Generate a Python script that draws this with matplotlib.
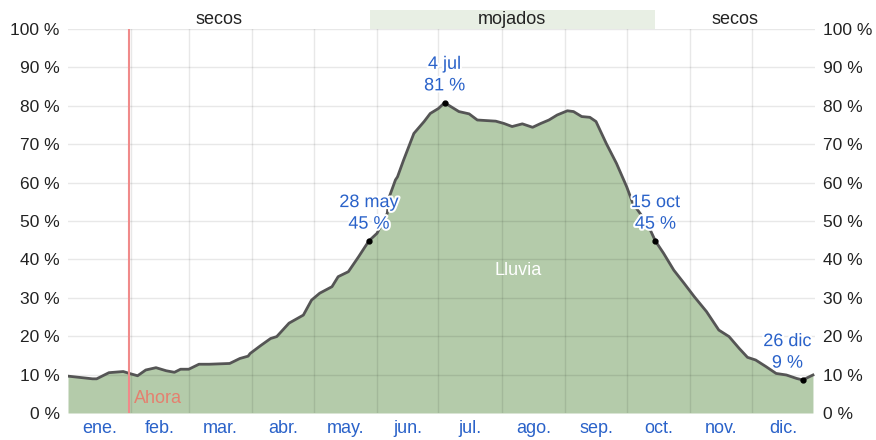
import matplotlib
matplotlib.use("Agg")
import matplotlib.pyplot as plt
import matplotlib.patheffects as pe
import numpy as np

plt.rcParams['font.family'] = ['Liberation Sans', 'DejaVu Sans']

# Day of year (0-based) and probability of rain (%)
days = [0, 12, 14, 20, 27, 30, 34, 38, 43, 48, 52, 55, 59, 64, 69, 79, 84, 88, 89,
        94, 99, 102, 108, 115, 119, 123, 129, 132, 137, 142, 147, 151, 156, 157, 160,
        161, 164, 169, 174, 177, 181, 184, 191, 196, 200, 209, 213, 217, 222, 227,
        231, 235, 239, 244, 247, 251, 255, 258, 263, 268, 273, 276, 283, 287, 291,
        296, 301, 306, 312, 318, 323, 328, 332, 336, 341, 346, 351, 356, 359, 364]
rain = [9.6, 8.9, 8.9, 10.5, 10.8, 10.3, 9.7, 11.2, 11.8, 11.0, 10.6, 11.4, 11.4,
        12.7, 12.7, 12.9, 14.2, 14.8, 15.5, 17.5, 19.4, 19.9, 23.4, 25.5, 29.4, 31.2,
        32.9, 35.5, 36.8, 40.7, 44.8, 46.8, 52.0, 56.3, 60.7, 61.5, 65.9, 72.8, 75.9,
        78.0, 79.3, 80.8, 78.5, 77.9, 76.3, 76.0, 75.4, 74.6, 75.3, 74.4, 75.4, 76.3,
        77.6, 78.7, 78.5, 77.2, 77.0, 75.9, 70.2, 65.0, 58.9, 54.6, 49.4, 44.8, 41.6,
        37.2, 33.8, 30.3, 26.4, 21.6, 19.9, 16.8, 14.5, 13.8, 12.1, 10.3, 9.9, 9.0,
        8.6, 9.9]

months = ['ene.', 'feb.', 'mar.', 'abr.', 'may.', 'jun.', 'jul.', 'ago.', 'sep.',
          'oct.', 'nov.', 'dic.']
month_len = [31, 28, 31, 30, 31, 30, 31, 31, 30, 31, 30, 31]

annot_days = [147, 184, 287, 359]
annot_vals = [45, 81, 45, 9]
annot_text = ['28 may\n45 %', '4 jul\n81 %', '15 oct\n45 %', '26 dic\n9 %']

now_day = 30
wet_start, wet_end = 147.5, 286.8
season_labels = ['secos', 'mojados', 'secos']

yticks = list(range(0, 101, 10))

fig = plt.figure(figsize=(8.76, 4.40), dpi=100)
ax = fig.add_axes([68/876, 1-413/440, (815-68)/876, (413-29)/440])

ax.fill_between(days, 0, rain, color='#b4cbaa', zorder=1, linewidth=0)
ax.plot(days, rain, color='#555555', lw=2, zorder=3, solid_joinstyle='round')

ax.set_xlim(0, 365)
ax.set_ylim(0, 100)

bounds = np.concatenate([[0], np.cumsum(month_len)])
centers = (bounds[:-1] + bounds[1:]) / 2
ax.set_xticks(bounds[1:-1])
ax.set_xticklabels([])
ax.set_xticks(centers, minor=True)
ax.set_xticklabels(months, minor=True)
ax.tick_params(axis='x', which='both', length=0)
ax.tick_params(axis='x', which='minor', labelsize=13, labelcolor='#2a62c9', pad=5)

ax.set_yticks(yticks)
ax.set_yticklabels([f'{v} %' for v in yticks])
ax.tick_params(axis='y', length=0, labelsize=12.5, labelcolor='#222222', pad=6,
               labelleft=True, labelright=True)

for b in bounds[1:-1]:
    ax.axvline(b, color='black', alpha=0.09, lw=1, zorder=2)
for v in yticks[1:]:
    ax.axhline(v, color='black', alpha=0.09, lw=1, zorder=2)

for s in ax.spines.values():
    s.set_visible(False)

# Now line
ax.axvline(now_day, color='#f08a8a', lw=1.5, zorder=4)
ax.text(now_day + 2, 3.8, 'Ahora', color='#e4806f', fontsize=13, va='center', ha='left',
        zorder=5)

# Lluvia label
ax.text(220, 37, 'Lluvia', color='white', fontsize=13, ha='center', va='center', zorder=5)

# Annotations
halo = [pe.withStroke(linewidth=3, foreground='white')]
for d, v, t in zip(annot_days, annot_vals, annot_text):
    val = rain[days.index(d)] if d in days else v
    ax.plot([d], [val], 'o', color='black', ms=3.5, zorder=6)
    dx = -11 if d > 350 else 0
    txt = ax.annotate(t, xy=(d, val), xytext=(dx, 6), textcoords='offset points',
                      ha='center', va='bottom', fontsize=13, color='#2a62c9',
                      linespacing=1.35, zorder=7)
    txt.set_path_effects(halo)

# Season band on top
ax.add_patch(plt.Rectangle((wet_start, 100), wet_end - wet_start, 5.0,
                           color='#e8efe4', clip_on=False, zorder=0, lw=0))
ax.text(wet_start / 2, 102.6, season_labels[0], ha='center', va='center', fontsize=13,
        color='#222222', clip_on=False)
ax.text((wet_start + wet_end) / 2, 102.6, season_labels[1], ha='center', va='center',
        fontsize=13, color='#222222', clip_on=False)
ax.text((wet_end + 365) / 2, 102.6, season_labels[2], ha='center', va='center',
        fontsize=13, color='#222222', clip_on=False)

fig.savefig('out.png', dpi=100)
